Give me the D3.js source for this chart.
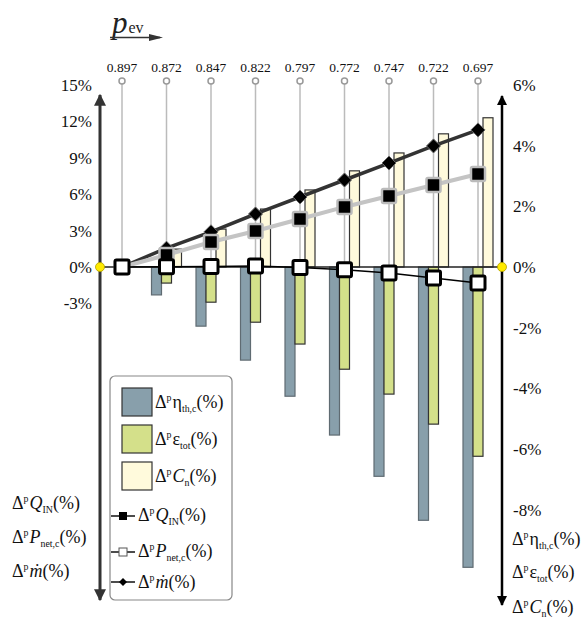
<!DOCTYPE html>
<html><head><meta charset="utf-8">
<script src="https://cdn.jsdelivr.net/npm/d3@7"></script>
<style>
body{margin:0;background:#fff}
svg text{font-family:"Liberation Serif","Times New Roman",Times,Tinos,"DejaVu Serif",serif !important}
</style></head>
<body><svg id="c" width="581" height="619"></svg>
<script>
const pev = ["0.897","0.872","0.847","0.822","0.797","0.772","0.747","0.722","0.697"];
// bars (right axis)
const etaTh = [0,-0.92,-1.95,-3.07,-4.26,-5.54,-6.9,-8.35,-9.9];
const epsTot = [0,-0.53,-1.16,-1.82,-2.54,-3.37,-4.19,-5.18,-6.24];
const cn = [0,0.59,1.25,1.91,2.54,3.17,3.76,4.39,4.92];
// lines (left axis)
const qIn = [0,0.99,2.06,2.97,3.96,4.95,5.85,6.76,7.67];
const pNet = [0,0.03,0.05,0.08,-0.05,-0.22,-0.5,-0.9,-1.32];
const mDot = [0,1.55,2.9,4.37,5.77,7.17,8.57,9.98,11.3];
const leftTicks = [-3,0,3,6,9,12,15];
const rightTicks = [-8,-6,-4,-2,0,2,4,6];

const svg = d3.select("#c");
const x = d3.scalePoint().domain(pev).range([122,478]);
const yL = d3.scaleLinear().domain([0,15]).range([267,85]);
const yR = d3.scaleLinear().domain([0,6]).range([267,85]);

const defs = svg.append("defs");
function marker(id,color){
  defs.append("marker").attr("id",id).attr("viewBox","0 0 10 10").attr("refX",9).attr("refY",5)
   .attr("markerWidth",4).attr("markerHeight",5).attr("orient","auto-start-reverse")
   .attr("markerUnits","strokeWidth")
   .append("path").attr("d","M0,0 L10,5 L0,10 z").attr("fill",color);
}
marker("aL","#333"); marker("aR","#000");

// title p_ev
const tt = svg.append("text").attr("x",112).attr("y",33).attr("font-size",31).attr("font-style","italic").attr("fill","#222");
tt.append("tspan").text("p");
tt.append("tspan").attr("font-size",16).attr("font-style","normal").attr("dx",1).text("ev");
svg.append("line").attr("x1",110).attr("x2",160).attr("y1",37.5).attr("y2",37.5)
  .attr("stroke","#333").attr("stroke-width",1.5);
svg.append("path").attr("d","M149,34 L163,37.5 L149,41 z").attr("fill","#333");

// category grey lines + circles + labels
const cat = svg.append("g");
cat.selectAll("line").data(pev).join("line")
  .attr("x1",d=>x(d)).attr("x2",d=>x(d)).attr("y1",84).attr("y2",yR(0))
  .attr("stroke","#bbb").attr("stroke-width",1.5);
cat.selectAll("circle").data(pev).join("circle")
  .attr("cx",d=>x(d)).attr("cy",81).attr("r",3).attr("fill","#fff").attr("stroke","#999").attr("stroke-width",1.5);
cat.selectAll("text").data(pev).join("text")
  .attr("x",d=>x(d)).attr("y",72).attr("text-anchor","middle").attr("font-size",13.5).attr("fill","#111").text(d=>d);

// bars
const bw = 10;
const barSeries = [
  {vals:etaTh, off:-15, fill:"#889fab", stroke:"#5f6b72"},
  {vals:epsTot, off:-5, fill:"#d4e08a", stroke:"#333"},
  {vals:cn, off:5, fill:"#fffadc", stroke:"#333"}
];
barSeries.forEach(s=>{
  svg.append("g").selectAll("rect").data(pev.map((p,i)=>({p,v:s.vals[i]})).filter(d=>d.v!==0)).join("rect")
   .attr("x",d=>x(d.p)+s.off).attr("width",bw)
   .attr("y",d=>Math.min(yR(d.v),yR(0))).attr("height",d=>Math.abs(yR(d.v)-yR(0)))
   .attr("fill",s.fill).attr("stroke",s.stroke).attr("stroke-width",1.2);
});

// baseline
svg.append("line").attr("x1",100).attr("x2",502).attr("y1",yR(0)).attr("y2",yR(0)).attr("stroke","#222").attr("stroke-width",1.5);

// axes
svg.append("line").attr("x1",100).attr("x2",100).attr("y1",600).attr("y2",95)
  .attr("stroke","#333").attr("stroke-width",3).attr("marker-end","url(#aL)").attr("marker-start","url(#aL)");
svg.append("line").attr("x1",502).attr("x2",502).attr("y1",605).attr("y2",96)
  .attr("stroke","#000").attr("stroke-width",2.5).attr("marker-end","url(#aR)").attr("marker-start","url(#aR)");

const axL = svg.append("g").attr("transform","translate(92,0)")
  .call(d3.axisLeft(yL).tickValues(leftTicks).tickSize(0).tickPadding(0).tickFormat(d=>d+"%"));
axL.attr("font-family",null);
axL.select(".domain").remove();
axL.selectAll("text").attr("font-size",17).attr("fill","#111");
const axR = svg.append("g").attr("transform","translate(513,0)")
  .call(d3.axisRight(yR).tickValues(rightTicks).tickSize(0).tickPadding(0).tickFormat(d=>d+"%"));
axR.attr("font-family",null);
axR.select(".domain").remove();
axR.selectAll("text").attr("font-size",17).attr("fill","#111");

// lines
const lineL = d3.line().x((d,i)=>x(pev[i])).y(d=>yL(d));
// m-dot
svg.append("path").datum(mDot).attr("d",lineL).attr("fill","none").attr("stroke","#333").attr("stroke-width",3.5);
svg.append("g").selectAll("path").data(mDot).join("path")
  .attr("transform",(d,i)=>`translate(${x(pev[i])},${yL(d)})`)
  .attr("d","M0,-7 L7,0 L0,7 L-7,0 z").attr("fill","#000").attr("stroke","#666").attr("stroke-width",1);
// Q_IN
svg.append("path").datum(qIn).attr("d",lineL).attr("fill","none").attr("stroke","#c4c4c4").attr("stroke-width",4);
svg.append("g").selectAll("rect").data(qIn).join("rect")
  .attr("x",(d,i)=>x(pev[i])-7).attr("y",d=>yL(d)-7).attr("width",14).attr("height",14).attr("rx",1.5)
  .attr("fill","#000").attr("stroke","#bbb").attr("stroke-width",2.5);
// P_net
svg.append("path").datum(pNet).attr("d",lineL).attr("fill","none").attr("stroke","#000").attr("stroke-width",1.5);
svg.append("g").selectAll("rect").data(pNet).join("rect")
  .attr("x",(d,i)=>x(pev[i])-7).attr("y",d=>yL(d)-7).attr("width",14).attr("height",14).attr("rx",1.5)
  .attr("fill","#fff").attr("stroke","#000").attr("stroke-width",3);

// yellow dots
svg.append("circle").attr("cx",100).attr("cy",yL(0)).attr("r",4.5).attr("fill","#ffea00").attr("stroke","#b0a000").attr("stroke-width",0.8);
svg.append("circle").attr("cx",502).attr("cy",yR(0)).attr("r",4.5).attr("fill","#ffea00").attr("stroke","#b0a000").attr("stroke-width",0.8);

// label helper
function lab(g,xp,yp,fs,base,baseItalic,sub){
  const t = g.append("text").attr("x",xp).attr("y",yp).attr("font-size",fs).attr("fill","#111");
  t.append("tspan").text("Δ");
  t.append("tspan").attr("font-size",fs*0.55).attr("dy",-fs*0.38).text("p");
  t.append("tspan").attr("dy",fs*0.38).attr("dx",1).attr("font-style",baseItalic?"italic":"normal").text(base);
  if(sub){ t.append("tspan").attr("font-size",fs*0.55).attr("dy",fs*0.2).text(sub);
    t.append("tspan").attr("dy",-fs*0.2).text("(%)"); }
  else t.append("tspan").text("(%)");
  return t;
}

// left bottom labels
lab(svg,12,509,18,"Q",true,"IN");
lab(svg,12,543,18,"P",true,"net,c");
lab(svg,12,577,18,"ṁ",true,null);
// right bottom labels
lab(svg,512,545,18,"η",false,"th,c");
lab(svg,512,578,18,"ε",false,"tot");
lab(svg,512,613,18,"C",true,"n");

// legend
const lg = svg.append("g");
lg.append("rect").attr("x",110).attr("y",376).attr("width",122).attr("height",224).attr("rx",5)
  .attr("fill","#fff").attr("stroke","#888").attr("stroke-width",1.2);
const sw = [{fill:"#889fab",stroke:"#333"},{fill:"#d4e08a",stroke:"#333"},{fill:"#fffadc",stroke:"#333"}];
sw.forEach((s,i)=>{
  lg.append("rect").attr("x",122).attr("y",388+i*37).attr("width",30).attr("height",28)
   .attr("fill",s.fill).attr("stroke",s.stroke).attr("stroke-width",1.2);
});
lab(lg,155,408,18,"η",false,"th,c");
lab(lg,155,445,18,"ε",false,"tot");
lab(lg,155,482,18,"C",true,"n");
// line swatches
[516,552,582].forEach((yy,i)=>{
  lg.append("line").attr("x1",111).attr("x2",135).attr("y1",yy).attr("y2",yy).attr("stroke","#111").attr("stroke-width",1.5);
});
lg.append("rect").attr("x",119).attr("y",512).attr("width",8).attr("height",8).attr("fill","#000");
lg.append("rect").attr("x",119).attr("y",548).attr("width",8).attr("height",8).attr("fill","#fff").attr("stroke","#555").attr("stroke-width",1);
lg.append("path").attr("d","M123,578 L127,582 L123,586 L119,582 z").attr("fill","#000");
lab(lg,138,521,18,"Q",true,"IN");
lab(lg,138,557,18,"P",true,"net,c");
lab(lg,138,588,18,"ṁ",true,null);
</script></body></html>
